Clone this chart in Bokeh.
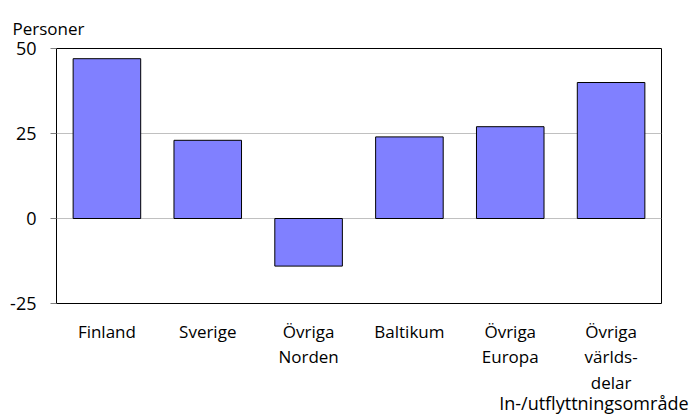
from bokeh.plotting import figure
from bokeh.models import ColumnDataSource, FixedTicker, Range1d, Title
from bokeh.embed import file_html
from bokeh.resources import INLINE

categories = ["Finland", "Sverige", "Övriga\nNorden", "Baltikum", "Övriga\nEuropa", "Övriga\nvärlds-\ndelar"]
values = [47, 23, -14, 24, 27, 40]
y_ticks = [-25, 0, 25, 50]
y_tick_labels = ["-25", "0", "25", "50"]
y_title = "Personer"
x_title = "In-/utflyttningsområde"

FONT = "Open Sans"

xs = [i + 0.5 for i in range(len(categories))]
bottoms = [min(0, v) for v in values]
tops = [max(0, v) for v in values]
src = ColumnDataSource(dict(x=xs, top=tops, bottom=bottoms))

p = figure(width=699, height=414, output_backend="svg", toolbar_location=None,
           x_range=Range1d(0, len(categories)), y_range=Range1d(-25, 50),
           min_border_left=56, min_border_right=38, min_border_top=48, min_border_bottom=111)
p.vbar(x="x", top="top", bottom="bottom", width=0.67, source=src,
       fill_color="#8080FF", line_color="black", line_width=1)

p.title = Title(text=y_title, align="left", offset=-44, text_font=FONT,
                text_font_size="17px", text_font_style="normal", text_color="black",
                standoff=18)

p.outline_line_color = "black"
p.outline_line_width = 1
p.background_fill_color = "white"
p.border_fill_color = "white"

p.xgrid.visible = False
p.ygrid.ticker = FixedTicker(ticks=y_ticks)
p.ygrid.grid_line_color = "#c0c0c0"
p.ygrid.grid_line_width = 1

p.yaxis.ticker = FixedTicker(ticks=y_ticks)
p.yaxis.major_label_overrides = {t: s for t, s in zip(y_ticks, y_tick_labels)}
p.yaxis.axis_line_color = "black"
p.yaxis.major_tick_line_color = "#808080"
p.yaxis.major_tick_in = 0
p.yaxis.major_tick_out = 6
p.yaxis.minor_tick_line_color = None
p.yaxis.major_label_text_font = FONT
p.yaxis.major_label_text_font_size = "18px"
p.yaxis.major_label_text_color = "black"
p.yaxis.major_label_standoff = 14

p.xaxis.ticker = FixedTicker(ticks=xs)
p.xaxis.major_label_overrides = {x: c for x, c in zip(xs, categories)}
p.xaxis.axis_line_color = None
p.xaxis.major_tick_line_color = None
p.xaxis.minor_tick_line_color = None
p.xaxis.major_label_text_font = FONT
p.xaxis.major_label_text_font_size = "17px"
p.xaxis.major_label_text_color = "black"
p.xaxis.major_label_text_line_height = 1.12
p.xaxis.major_label_standoff = 10

p.add_layout(Title(text=x_title, align="right", offset=-27, text_font=FONT,
                   text_font_size="18px", text_font_style="normal", text_color="black",
                   standoff=-18), "below")

open("out.html", "w").write(file_html(p, INLINE))
